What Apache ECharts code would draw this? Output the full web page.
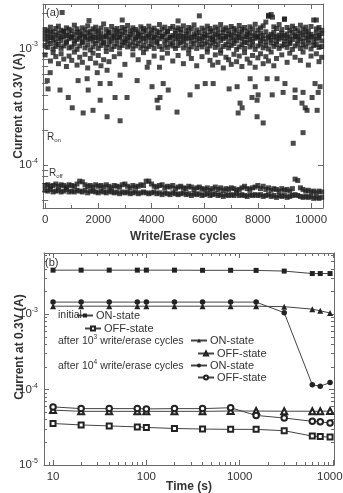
<!DOCTYPE html>
<html>
<head>
<meta charset="utf-8">
<script src="https://cdn.jsdelivr.net/npm/echarts@6/dist/echarts.min.js"></script>
<style>html,body{margin:0;padding:0;background:#fff}#chart{width:343px;height:493px}</style>
</head>
<body>
<div id="chart"></div>
<script>
// ---- panel (a): write/erase endurance, current read every 100 cycles ----
var cycleStep = 100;
// ON-state band (mA), one value per 100 cycles
var onTop = [1.45,1.41,1.52,1.39,1.48,1.55,1.43,1.40,1.50,1.46,
  1.42,1.58,1.47,1.38,1.50,1.44,1.56,1.40,1.47,1.52,
  1.41,1.49,1.62,1.45,1.39,1.54,1.43,1.48,1.40,1.51,
  1.46,1.57,1.42,1.50,1.45,1.39,1.53,1.48,1.43,1.55,
  1.44,1.49,1.41,1.60,1.46,1.52,1.40,1.48,1.54,1.43,
  1.50,1.45,1.56,1.42,1.51,1.47,1.59,1.44,1.90,1.49,
  1.43,1.55,1.48,1.41,1.52,1.46,1.60,1.45,1.50,1.42,
  1.54,1.48,1.43,1.57,1.46,1.51,1.40,1.53,1.47,1.61,
  1.44,1.50,1.56,1.68,1.88,1.95,1.53,1.48,1.60,1.45,
  1.78,1.51,1.43,1.55,1.48,1.42,1.58,1.46,1.52,1.40,
  1.54,1.75,1.47,1.51,1.43];
var onMid = [1.32,1.27,1.37,1.25,1.30,1.35,1.26,1.39,1.29,1.33,
  1.25,1.31,1.38,1.28,1.33,1.24,1.36,1.29,1.26,1.38,
  1.28,1.34,1.25,1.31,1.37,1.27,1.30,1.35,1.25,1.32,
  1.37,1.26,1.31,1.36,1.24,1.33,1.29,1.39,1.27,1.31,
  1.35,1.25,1.30,1.37,1.27,1.32,1.38,1.25,1.29,1.34,
  1.28,1.37,1.26,1.31,1.36,1.24,1.33,1.30,1.37,1.27,
  1.32,1.29,1.39,1.26,1.31,1.35,1.28,1.37,1.25,1.33,
  1.30,1.36,1.27,1.32,1.38,1.26,1.31,1.36,1.28,1.34,
  1.25,1.35,1.29,1.39,1.27,1.32,1.37,1.26,1.30,1.35,
  1.29,1.33,1.25,1.37,1.30,1.27,1.35,1.31,1.38,1.28,
  1.32,1.26,1.36,1.29,1.34];
var onMid2 = [1.20,1.15,1.24,1.18,1.13,1.22,1.17,1.26,1.14,1.21,
  1.25,1.16,1.19,1.23,1.14,1.27,1.18,1.21,1.15,1.24,
  1.17,1.22,1.13,1.26,1.19,1.15,1.23,1.18,1.25,1.14,
  1.21,1.16,1.24,1.13,1.20,1.26,1.17,1.22,1.15,1.25,
  1.18,1.23,1.14,1.21,1.26,1.16,1.19,1.24,1.13,1.22,
  1.17,1.25,1.15,1.20,1.23,1.14,1.26,1.18,1.21,1.16,
  1.24,1.13,1.22,1.19,1.15,1.25,1.17,1.21,1.26,1.14,
  1.23,1.18,1.16,1.24,1.20,1.13,1.25,1.19,1.15,1.22,
  1.26,1.17,1.21,1.14,1.23,1.18,1.25,1.15,1.20,1.24,
  1.16,1.22,1.13,1.19,1.26,1.17,1.21,1.15,1.23,1.18,
  1.25,1.14,1.20,1.24,1.16];
var onLow = [1.06,1.02,1.10,0.99,1.04,1.08,1.00,1.05,1.11,1.01,
  1.03,1.09,0.98,1.05,1.12,1.01,1.07,0.97,1.03,1.10,
  1.00,1.06,1.11,1.02,1.08,0.98,1.04,1.09,1.01,1.06,
  1.12,1.03,1.07,0.99,1.05,1.10,1.01,1.06,0.99,1.04,
  1.08,1.00,1.11,1.04,0.98,1.07,1.02,1.09,1.05,1.00,
  1.06,1.12,1.01,1.07,0.98,1.03,1.10,1.00,1.08,1.03,
  1.09,0.99,1.05,1.11,1.02,1.07,0.97,1.04,1.08,1.01,
  1.06,1.10,0.98,1.03,1.08,1.00,1.12,1.03,1.07,0.98,
  1.05,1.09,1.01,1.06,0.99,1.11,1.04,1.08,1.00,1.05,
  1.08,1.02,1.10,0.98,1.05,1.09,1.00,1.07,1.03,1.11,
  0.99,1.06,1.08,1.02,1.04];
var onDeep = [0.88,null,0.78,0.92,0.85,0.74,0.90,0.81,0.70,0.86,
  0.79,0.93,0.72,0.84,0.76,0.89,0.68,0.82,0.91,0.75,
  0.87,0.71,0.80,0.94,0.77,null,0.85,null,0.90,null,
  0.73,null,null,0.88,null,0.80,null,0.92,null,0.76,
  null,0.86,null,0.69,0.83,null,0.91,null,0.78,null,
  0.87,null,0.74,null,0.90,0.82,null,0.71,null,0.85,
  null,0.93,0.79,0.72,0.88,0.76,0.91,0.68,0.84,0.80,
  0.73,0.89,0.77,0.86,0.70,0.92,0.81,0.75,0.87,0.69,
  0.83,0.90,0.74,0.85,0.78,0.93,0.71,0.82,null,0.88,
  null,0.76,0.91,null,0.84,null,0.79,0.93,null,0.72,
  0.86,null,0.90,0.77,0.84];
// scattered ON-state reads [cycle, mA]
var onStray = [[640,2.03],[1650,1.73],[2900,1.75],[5000,1.72],[8400,1.92],[8550,1.85],[9000,1.78],[10200,1.75],
  [80,0.53],[110,0.45],[190,0.62],[560,0.44],[870,0.38],[1020,0.31],[1240,0.53],[1430,0.28],
  [1580,0.55],[1620,0.44],[1800,0.295],[1960,0.62],[2070,0.36],[2070,0.50],[2330,0.26],[2330,0.65],
  [2440,0.50],[2630,0.38],[2820,0.24],[2820,0.59],[3080,0.38],[3460,0.53],[3840,0.69],[4020,0.47],
  [4210,0.36],[4250,0.31],[4320,0.38],[4440,0.50],[4630,0.44],[4960,0.285],[5450,0.40],[5720,0.47],
  [6020,0.50],[6320,0.50],[6920,0.45],[7220,0.47],[7260,0.28],[7330,0.34],[7410,0.31],[7710,0.55],
  [7780,0.38],[7900,0.47],[7970,0.36],[7970,0.26],[8010,0.40],[8200,0.23],[8350,0.55],[8540,0.40],
  [8720,0.55],[8950,0.42],[9020,0.50],[9330,0.154],[9400,0.44],[9400,0.38],[9660,0.34],[9700,0.42],
  [9700,0.19],[9780,0.31],[9850,0.295],[10040,0.38],[10150,0.50],[10230,0.295],[10270,0.42],[10340,0.47]];
// OFF-state band (x 1e-5 A), one value per 100 cycles
var offTop = [6.7,6.8,6.6,6.7,6.9,6.6,6.8,6.7,6.5,6.8,
  6.7,6.6,6.9,7.3,7.2,6.8,6.6,6.7,6.5,6.8,
  6.6,6.7,6.5,6.8,6.6,6.4,6.7,6.6,6.5,6.8,
  6.9,6.6,6.4,6.7,6.5,6.6,6.8,6.7,7.3,7.3,
  6.9,6.6,6.5,6.7,6.8,6.4,6.6,6.5,6.7,6.3,
  6.5,6.6,6.4,6.3,6.6,6.5,6.2,6.4,6.5,6.3,
  6.2,6.4,6.1,6.3,6.5,6.2,6.4,6.1,6.3,6.2,
  6.4,6.3,6.1,6.2,6.4,6.6,6.3,6.2,6.4,6.5,
  6.7,6.3,6.6,6.2,6.4,6.1,6.3,6.2,6.0,6.3,
  6.1,6.2,6.0,6.3,7.6,7.4,6.4,6.2,6.0,6.1,
  5.9,6.0,5.8,6.0,5.9];
var offLow = [6.1,6.0,6.2,5.9,6.0,6.1,5.9,6.0,6.2,5.9,
  6.0,5.9,6.1,6.0,5.9,6.1,5.8,6.0,6.0,5.9,
  5.8,6.0,5.9,5.8,6.0,5.9,5.8,5.9,5.7,5.9,
  5.8,5.9,5.7,5.8,5.9,5.7,5.8,5.9,5.8,5.7,
  5.8,5.9,5.7,5.8,5.6,5.8,5.7,5.6,5.8,5.7,
  5.6,5.7,5.8,5.6,5.7,5.5,5.7,5.6,5.7,5.5,
  5.6,5.7,5.5,5.6,5.7,5.5,5.6,5.4,5.6,5.5,
  5.6,5.5,5.7,5.5,5.6,5.5,5.4,5.6,5.5,5.6,
  5.5,5.6,5.4,5.5,5.6,5.4,5.5,5.3,5.5,5.4,
  5.5,5.3,5.4,5.5,5.6,5.5,5.4,5.3,5.4,5.3,
  5.4,5.2,5.3,5.2,5.3];
var rOn = 1.51e-4;
var rOff = 7.44e-5;
var cycleLabels = [0, 2000, 4000, 6000, 8000, 10000];
var cycleMinor = [1000, 3000, 5000, 7000, 9000];

// ---- panel (b): retention ----
var times = [10, 20, 40, 80, 100, 200, 400, 800, 1500, 3000, 6000, 7300, 9300];
var initialOn = [3.85,3.85,3.85,3.85,3.85,3.85,3.83,3.83,3.82,3.74,3.47,3.47,3.47];  // mA
var initialOff = [3.55,3.40,3.30,3.20,3.15,3.05,3.00,2.97,2.97,2.85,2.42,2.38,2.35]; // 1e-5 A
var after3On = [1.28,1.28,1.28,1.28,1.28,1.28,1.28,1.28,1.28,1.26,1.17,1.11,1.04];
var after3Off = [5.35,5.15,5.15,5.15,5.15,5.15,5.15,5.20,5.20,5.17,5.17,5.17,5.20];
var after4On = [1.45,1.45,1.45,1.45,1.45,1.45,1.45,1.45,1.45,1.05,0.116,0.111,0.124];
var after4Off = [5.90,5.60,5.60,5.60,5.55,5.60,5.60,5.75,4.55,4.20,3.80,3.75,3.60];
var timeLabels = [10, 100, 1000, 10000];

var FONT = '"Liberation Sans", Arial, Helvetica, sans-serif';
var AXIS = '#6a6a6a';
var TXT = '#333';

function column(vals, scale) {
  var out = [];
  vals.forEach(function (v, i) { if (v != null) out.push([i * cycleStep, v * scale]); });
  return out;
}
function pairs(xs, ys, scale) {
  return xs.map(function (x, i) { return [x, ys[i] * scale]; });
}
function decadeMinor(min, max) {
  var out = [];
  for (var e = -6; e <= 5; e++) {
    for (var k = 2; k <= 9; k++) {
      var v = k * Math.pow(10, e);
      if (v > min && v < max) out.push(v);
    }
  }
  return out;
}
function powLabel(v) {
  var e = Math.round(Math.log10(v));
  return '{b|10}{s|' + e + '}';
}
function plain(v) { return String(Math.round(v)); }
var powRich = {
  b: { fontSize: 11.5, color: TXT, fontFamily: FONT },
  s: { fontSize: 7, color: TXT, fontFamily: FONT, padding: [0, 0, 8, 0] }
};

var xAxes = [], yAxes = [];
function frame(list, grid, type, min, max, major, minor, pos, far, label, name) {
  var base = { gridIndex: grid, type: type, min: min, max: max, splitLine: { show: false }, silent: true };
  var line = { show: true, onZero: false, lineStyle: { color: AXIS, width: 1 } };
  var majorTick = { show: true, inside: true, length: 5, customValues: major, lineStyle: { color: AXIS } };
  var minorTick = { show: true, inside: true, length: 3, customValues: minor, lineStyle: { color: AXIS } };
  list.push(Object.assign({}, base, { position: pos, axisLine: line, axisTick: majorTick, axisLabel: label }, name || {}));
  var main = list.length - 1;
  list.push(Object.assign({}, base, { position: pos, axisLine: { show: false }, axisTick: minorTick, axisLabel: { show: false } }));
  list.push(Object.assign({}, base, { position: far, axisLine: line, axisTick: majorTick, axisLabel: { show: false } }));
  list.push(Object.assign({}, base, { position: far, axisLine: { show: false }, axisTick: minorTick, axisLabel: { show: false } }));
  return main;
}
var nameStyle = { fontSize: 12, fontWeight: 'bold', color: TXT, fontFamily: FONT };

// panel (a) axes
var aYmin = 4.3e-5, aYmax = 2.4e-3;
var ax = frame(xAxes, 0, 'value', -80, 10450, cycleLabels, cycleMinor, 'bottom', 'top',
  { customValues: cycleLabels, formatter: plain, margin: 6, fontSize: 11.5, color: TXT, fontFamily: FONT },
  { name: 'Write/Erase cycles', nameLocation: 'middle', nameGap: 23, nameMoveOverlap: false, nameTextStyle: nameStyle });
var ay = frame(yAxes, 0, 'log', aYmin, aYmax, [1e-4, 1e-3], decadeMinor(aYmin, aYmax), 'left', 'right',
  { customValues: [1e-4, 1e-3], margin: 5, formatter: powLabel, rich: powRich },
  { name: 'Current at 0.3V (A)', nameLocation: 'middle', nameGap: 18, nameMoveOverlap: false, nameTextStyle: nameStyle });

// panel (b) axes
var bXmin = 8, bXmax = 10250, bYmin = 1e-5, bYmax = 6.5e-3;
var bx = frame(xAxes, 1, 'log', bXmin, bXmax, timeLabels, decadeMinor(bXmin, bXmax), 'bottom', 'top',
  { customValues: timeLabels, formatter: plain, margin: 6, fontSize: 11.5, color: TXT, fontFamily: FONT },
  { name: 'Time (s)', nameLocation: 'middle', nameGap: 16, nameMoveOverlap: false, nameTextStyle: nameStyle });
var by = frame(yAxes, 1, 'log', bYmin, bYmax, [1e-5, 1e-4, 1e-3], decadeMinor(bYmin, bYmax), 'left', 'right',
  { customValues: [1e-5, 1e-4, 1e-3], margin: 6, formatter: powLabel, rich: powRich },
  { name: 'Current at 0.3V (A)', nameLocation: 'middle', nameGap: 18, nameMoveOverlap: false,
    nameTextStyle: Object.assign({ padding: [0, 0, 0, 24] }, nameStyle) });

function scatter(data) {
  return { type: 'scatter', xAxisIndex: ax, yAxisIndex: ay, data: data, symbol: 'rect', symbolSize: 5,
    itemStyle: { color: '#1e1e1e' }, silent: true, animation: false };
}
var seriesA = [
  scatter(column(onTop, 1e-3)), scatter(column(onMid, 1e-3)), scatter(column(onMid2, 1e-3)),
  scatter(column(onLow, 1e-3)), scatter(column(onDeep, 1e-3)),
  scatter(pairs(onStray.map(function (p) { return p[0]; }), onStray.map(function (p) { return p[1]; }), 1e-3)),
  scatter(column(offTop, 1e-5)), scatter(column(offLow, 1e-5))
];
seriesA[0].markLine = {
  silent: true, symbol: 'none', animation: false, label: { show: false },
  lineStyle: { color: '#666', width: 1, type: 'solid' },
  data: [{ yAxis: rOn }, { yAxis: rOff }]
};

function retention(name, ys, scale, symbol, size) {
  return { type: 'line', name: name, xAxisIndex: bx, yAxisIndex: by, data: pairs(times, ys, scale),
    symbol: symbol, symbolSize: size, showAllSymbol: true, animation: false, silent: true,
    lineStyle: { color: '#444', width: 1 }, itemStyle: { color: '#222', borderWidth: 1 } };
}
var seriesB = [
  retention('initial ON', initialOn, 1e-3, 'rect', 5),
  retention('initial OFF', initialOff, 1e-5, 'emptyRect', 5),
  retention('1e3 ON', after3On, 1e-3, 'triangle', 6),
  retention('1e3 OFF', after3Off, 1e-5, 'emptyTriangle', 6),
  retention('1e4 ON', after4On, 1e-3, 'circle', 5.5),
  retention('1e4 OFF', after4Off, 1e-5, 'emptyCircle', 5.5)
];

function legendAt(name, left, top) {
  return { data: [name], left: left, top: top, padding: 0, itemWidth: 16, itemHeight: 5, selectedMode: false,
    formatter: function (n) { return /OFF$/.test(n) ? 'OFF-state' : 'ON-state'; },
    textStyle: { fontSize: 11, color: TXT, fontFamily: FONT, padding: [0, 0, 0, -2] } };
}
function note(text, left, top, size, rich) {
  return { text: text, left: left, top: top, padding: 0,
    textStyle: { fontSize: size, fontWeight: 'normal', color: TXT, fontFamily: FONT, rich: rich || {} } };
}
var subRich = {
  r: { fontSize: 10, color: TXT, fontFamily: FONT },
  d: { fontSize: 6, color: TXT, fontFamily: FONT, padding: [6, 0, 0, 0] }
};
var supRich = {
  t: { fontSize: 10.5, color: TXT, fontFamily: FONT },
  u: { fontSize: 6.5, color: TXT, fontFamily: FONT, padding: [0, 0, 7, 0] }
};

var chart = echarts.init(document.getElementById('chart'), null, { renderer: 'canvas' });
chart.setOption({
  animation: false,
  backgroundColor: '#fff',
  grid: [
    { left: 43, top: 4, width: 280, height: 204, outerBoundsMode: 'none', containLabel: false },
    { left: 44, top: 253, width: 290, height: 212, outerBoundsMode: 'none', containLabel: false }
  ],
  xAxis: xAxes,
  yAxis: yAxes,
  title: [
    note('(a)', 46, 7, 11),
    note('(b)', 45, 257, 11),
    note('{r|R}{d|on}', 47, 131, 10, subRich),
    note('{r|R}{d|off}', 49, 167, 10, subRich),
    note('{t|initial}', 58, 310, 10.5, supRich),
    note('{t|after 10}{u|3}{t| write/erase cycles}', 58, 334, 10.5, supRich),
    note('{t|after 10}{u|4}{t| write/erase cycles}', 58, 359, 10.5, supRich)
  ],
  legend: [
    legendAt('initial ON', 76, 310),
    legendAt('initial OFF', 84, 323),
    legendAt('1e3 ON', 190, 335),
    legendAt('1e3 OFF', 197, 348),
    legendAt('1e4 ON', 190, 360),
    legendAt('1e4 OFF', 197, 372)
  ],
  series: seriesA.concat(seriesB)
});
</script>
</body>
</html>
